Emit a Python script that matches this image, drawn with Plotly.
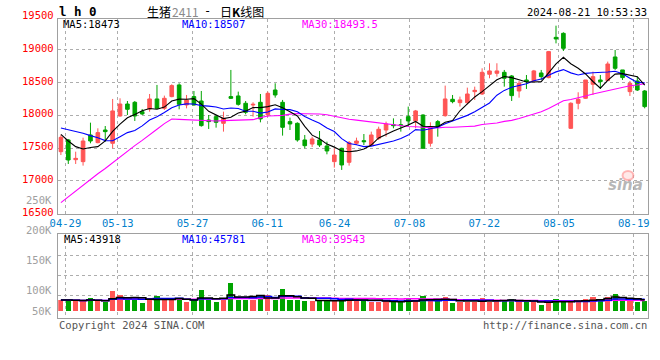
import plotly.graph_objects as go
import pandas as pd

# ---------------- data ----------------
dates = ["04-26", "04-29", "04-30", "05-06", "05-07", "05-08", "05-09", "05-10", "05-13", "05-14",
         "05-15", "05-16", "05-17", "05-20", "05-21", "05-22", "05-23", "05-24", "05-27", "05-28",
         "05-29", "05-30", "05-31", "06-03", "06-04", "06-05", "06-06", "06-07", "06-11", "06-12",
         "06-13", "06-14", "06-17", "06-18", "06-19", "06-20", "06-21", "06-24", "06-25", "06-26",
         "06-27", "06-28", "07-01", "07-02", "07-03", "07-04", "07-05", "07-08", "07-09", "07-10",
         "07-11", "07-12", "07-15", "07-16", "07-17", "07-18", "07-19", "07-22", "07-23", "07-24",
         "07-25", "07-26", "07-29", "07-30", "07-31", "08-01", "08-02", "08-05", "08-06", "08-07",
         "08-08", "08-09", "08-12", "08-13", "08-14", "08-15", "08-16", "08-19", "08-20", "08-21"]

opens = [17447, 17626, 17325, 17295, 17702, 17585, 17778, 17575, 17992, 18175,
         18201, 18058, 18099, 18252, 18109, 18288, 18466, 18160, 18288, 18221,
         17931, 17982, 17880, 18288, 18298, 18186, 18160, 18201, 18010, 18389,
         18201, 17906, 17880, 17626, 17564, 17626, 17534, 17295, 17498, 17285,
         17575, 17615, 17549, 17651, 17778, 17860, 17860, 17982, 17916, 18007,
         17575, 17906, 17997, 18247, 18196, 18196, 18364, 18328, 18629, 18644,
         18659, 18603, 18374, 18542, 18527, 18649, 18578, 19193, 19254, 17804,
         18186, 18262, 18476, 18542, 18532, 18893, 18695, 18364, 18527, 18374]
highs = [17702, 17641, 17447, 17661, 17890, 17804, 17839, 18252, 18262, 18221,
         18221, 18099, 18328, 18466, 18303, 18476, 18491, 18313, 18374, 18374,
         18007, 18007, 18058, 18695, 18364, 18221, 18201, 18328, 18364, 18491,
         18237, 17967, 17895, 17702, 17676, 17763, 17600, 17498, 17508, 17610,
         17661, 17717, 17753, 17829, 17906, 17956, 17947, 18135, 18084, 18018,
         17895, 17931, 18456, 18313, 18288, 18425, 18440, 18720, 18797, 18797,
         18695, 18618, 18527, 18618, 18695, 18695, 18985, 19371, 19270, 18201,
         18354, 18542, 18669, 18618, 18822, 19000, 18695, 18527, 18593, 18389]
lows = [17396, 17259, 17259, 17234, 17575, 17575, 17600, 17498, 17982, 18007,
        17916, 18007, 18058, 18099, 18084, 18278, 18094, 18109, 18150, 17829,
        17794, 17814, 17753, 18252, 18150, 18018, 17982, 17895, 17980, 18272,
        17692, 17778, 17600, 17498, 17519, 17519, 17407, 17203, 17168, 17234,
        17549, 17549, 17539, 17626, 17676, 17804, 17753, 17829, 17804, 17498,
        17524, 17676, 17982, 18186, 18135, 18170, 18237, 18313, 18568, 18593,
        18440, 18221, 18272, 18405, 18517, 18542, 18568, 19101, 18985, 17794,
        18094, 18252, 18313, 18405, 18527, 18695, 18542, 18298, 18374, 18109]
closes = [17666, 17320, 17345, 17610, 17610, 17738, 17753, 18069, 18175, 18094,
          17992, 18023, 18252, 18109, 18262, 18456, 18170, 18237, 18160, 17845,
          17906, 17895, 17956, 18262, 18170, 18048, 18170, 17947, 18338, 18313,
          17819, 17870, 17626, 17539, 17641, 17549, 17458, 17396, 17244, 17585,
          17610, 17600, 17702, 17789, 17870, 17845, 17845, 17916, 18069, 17498,
          17829, 17829, 18252, 18211, 18237, 18328, 18384, 18659, 18680, 18680,
          18568, 18303, 18491, 18517, 18680, 18593, 18975, 19168, 19025, 18186,
          18247, 18542, 18593, 18517, 18786, 18720, 18578, 18491, 18389, 18135]
volumes = [42700, 42700, 38700, 38700, 49000, 38700, 36000, 78700, 62700, 42700,
           42700, 32000, 49000, 58700, 42700, 42700, 49000, 36000, 42700, 82700,
           42700, 36000, 42700, 112000, 42700, 42700, 42700, 62700, 62700, 42700,
           86700, 42700, 42700, 38700, 38700, 42700, 38700, 38700, 40000, 50000,
           45000, 40000, 36000, 36000, 38700, 33000, 33000, 50000, 38700, 59000,
           38700, 38700, 56000, 32000, 33000, 36000, 36000, 52000, 36000, 38000,
           42700, 46700, 38700, 33300, 33300, 22700, 42700, 46700, 33300, 33300,
           38700, 46700, 56000, 46700, 56000, 66700, 40000, 38000, 36000, 37000]

# moving-average values at the start of the window (their history lies before the chart)
ma5_head = [17712, 17610, 17524, 17488]
ma10_head = [17809, 17783, 17753, 17727, 17692, 17661, 17616, 17615, 17675]
ma30_head = [16670, 16760, 16850, 16940, 17020, 17110, 17190, 17280, 17370, 17450,
             17540, 17620, 17710, 17790, 17875, 17945, 17940, 17935, 17925, 17920,
             17916, 17916, 17921, 17926, 17931, 17931, 17936, 17967, 17992]

label_dates = ["04-29", "05-13", "05-27", "06-11", "06-24", "07-08", "07-22", "08-05", "08-19"]
price_grid = [17000, 17500, 18000, 18500, 19000]
price_labels = [16500, 17000, 17500, 18000, 18500, 19000, 19500]
vol_labels = ["250K", "200K", "150K", "100K", "50K"]
ma_text = ["MA5:18473", "MA10:18507", "MA30:18493.5"]
vol_ma_text = ["MA5:43918", "MA10:45781", "MA30:39543"]
title_parts = ["生猪", "2411", "-", "日K线图"]

# ---------------- styling ----------------
W, H = 660, 360
RED = "#FF5555"
GREEN = "#00A400"
MONO = "DejaVu Sans Mono"
CJK = "Noto Sans CJK SC"
GRID = "#ADADAD"
BORDER = "#A0A0A0"

Y0, Y1 = 16500, 19473          # main price range
PY_BOT, PY_TOP = 213.7, 19.0   # its pixel extent


def fx(px):
    return px / W


def fy(py):
    return 1 - py / H


def price_py(v):
    return PY_BOT - (v - Y0) / (Y1 - Y0) * (PY_BOT - PY_TOP)


x = list(range(len(dates)))


def moving(vals, n, head):
    m = pd.Series(vals).rolling(n).mean().tolist()
    return list(head) + m[len(head):]


ma5 = moving(closes, 5, ma5_head)
ma10 = moving(closes, 10, ma10_head)
ma30 = moving(closes, 30, ma30_head)
vs = pd.Series(volumes)
vma5 = vs.rolling(5, min_periods=1).mean().tolist()
vma10 = vs.rolling(10, min_periods=1).mean().tolist()
vma30 = vs.rolling(30, min_periods=1).mean().tolist()

pos = [dates.index(d) for d in label_dates]
grid_x = [0.61 + (p - 1) * 1.012 for p in pos]

fig = go.Figure()
fig.add_trace(go.Candlestick(
    x=x, open=opens, high=highs, low=lows, close=closes,
    increasing=dict(line=dict(color=RED, width=1), fillcolor=RED),
    decreasing=dict(line=dict(color=GREEN, width=1), fillcolor=GREEN),
    whiskerwidth=0, xaxis="x", yaxis="y", hoverinfo="skip", showlegend=False))
for ys, c in [(ma30, "#FF00FF"), (ma10, "#0000FF"), (ma5, "#000000")]:
    fig.add_trace(go.Scatter(x=x, y=ys, mode="lines", line=dict(color=c, width=1.1),
                             xaxis="x", yaxis="y", hoverinfo="skip", showlegend=False))

vcolors = [RED if c >= o else GREEN for o, c in zip(opens, closes)]
fig.add_trace(go.Bar(x=x, y=volumes, marker=dict(color=vcolors, line=dict(width=0)), width=0.7,
                     xaxis="x2", yaxis="y2", hoverinfo="skip", showlegend=False))
for ys, c in [(vma30, "#FF00FF"), (vma10, "#0000FF"), (vma5, "#000000")]:
    fig.add_trace(go.Scatter(x=x, y=ys, mode="lines", line=dict(color=c, width=1.5, shape="hvh"),
                             xaxis="x2", yaxis="y2", hoverinfo="skip", showlegend=False))

xdom = [fx(50), fx(649.3)]
xr = [-0.36, 79.51]
common_x = dict(domain=xdom, range=xr, tickvals=grid_x, showgrid=True, gridcolor=GRID,
                griddash="dot", gridwidth=1, showline=True, mirror=True, linecolor=BORDER,
                linewidth=1, ticks="", zeroline=False, fixedrange=True)
fig.update_layout(
    width=W, height=H, margin=dict(l=0, r=0, t=0, b=0),
    paper_bgcolor="white", plot_bgcolor="white", showlegend=False, bargap=0,
    xaxis=dict(**common_x, anchor="y", ticktext=label_dates,
               tickfont=dict(family=MONO, size=10.5, color="#0080CC"),
               rangeslider=dict(visible=False)),
    yaxis=dict(domain=[fy(PY_BOT), fy(PY_TOP)], range=[Y0, Y1], tickvals=price_grid,
               showticklabels=False, showgrid=True, gridcolor=GRID, griddash="dot",
               showline=True, mirror=True, linecolor=BORDER, zeroline=False, anchor="x"),
    xaxis2=dict(**common_x, anchor="y2", matches="x", showticklabels=False),
    yaxis2=dict(domain=[fy(318.3), fy(234.3)], range=[-30400, 305600],
                tickvals=[60000, 142800, 222800], showticklabels=False, showgrid=True,
                gridcolor=GRID, griddash="dot", showline=True, mirror=True,
                linecolor=BORDER, zeroline=False, anchor="x2"),
)

ann = []
for v in price_labels:
    ann.append(dict(x=fx(47.5), xref="paper", y=fy(price_py(v) - 2), yref="paper", text=str(v),
                    showarrow=False, xanchor="right", yanchor="middle",
                    font=dict(family=MONO, size=10.5, color="#FF0000")))
for t, py in zip(vol_labels, [200, 230, 260, 290, 311]):
    ann.append(dict(x=fx(46), xref="paper", y=fy(py), yref="paper", text=t,
                    showarrow=False, xanchor="right", yanchor="middle",
                    font=dict(family=MONO, size=10.5, color="#A0A0A0")))
for t, px, c in zip(ma_text, [53, 174, 295], ["#000000", "#0000FF", "#FF00FF"]):
    ann.append(dict(x=fx(px), xref="paper", y=fy(24.5), yref="paper", text=t, showarrow=False,
                    xanchor="left", yanchor="middle", font=dict(family=MONO, size=10.5, color=c)))
for t, px, c in zip(vol_ma_text, [54, 174, 295], ["#000000", "#0000FF", "#FF00FF"]):
    ann.append(dict(x=fx(px), xref="paper", y=fy(238.5), yref="paper", text=t, showarrow=False,
                    xanchor="left", yanchor="middle", font=dict(family=MONO, size=10.5, color=c)))
# title pieces
for t, px, c, fam in zip(title_parts, [138, 163, 196, 212],
                         ["#000000", "#8a8a8a", "#000000", "#000000"], [CJK, CJK, MONO, CJK]):
    txt = "日<b>K</b>线图" if t == "日K线图" else t
    ann.append(dict(x=fx(px), xref="paper", y=fy(10.5), yref="paper", text=txt, showarrow=False,
                    xanchor="left", yanchor="middle", height=14, valign="middle",
                    font=dict(family=fam, size=12, color=c)))
ann += [
    dict(x=fx(49), xref="paper", y=fy(11), yref="paper", text="<b>l h 0</b>", showarrow=False,
         xanchor="left", yanchor="middle", font=dict(family=MONO, size=12.5, color="#000000")),
    dict(x=fx(650), xref="paper", y=fy(11.5), yref="paper", text="2024-08-21 10:53:33",
         showarrow=False, xanchor="right", yanchor="middle",
         font=dict(family=MONO, size=10.5, color="#000000")),
    dict(x=fx(49), xref="paper", y=fy(324.5), yref="paper", text="Copyright 2024 SINA.COM",
         showarrow=False, xanchor="left", yanchor="middle",
         font=dict(family=MONO, size=10.5, color="#555555")),
    dict(x=fx(650), xref="paper", y=fy(324.5), yref="paper", text="http://finance.sina.com.cn",
         showarrow=False, xanchor="right", yanchor="middle",
         font=dict(family=MONO, size=10.5, color="#555555")),
    dict(x=fx(626), xref="paper", y=fy(185), yref="paper", text="<b><i>sina</i></b>",
         showarrow=False, xanchor="center", yanchor="middle",
         font=dict(family="DejaVu Sans", size=15, color="rgba(160,160,160,0.75)")),
]
fig.update_layout(annotations=ann)
fig.add_shape(type="circle", xref="paper", yref="paper", x0=fx(623), x1=fx(634),
              y0=fy(180), y1=fy(171), line=dict(color="rgba(255,140,140,0.6)", width=2),
              fillcolor="rgba(255,200,200,0.4)")

fig.write_html("out.html", config={"displayModeBar": False, "staticPlot": True},
               post_script="document.body.style.margin='0';document.body.style.overflow='hidden';")
